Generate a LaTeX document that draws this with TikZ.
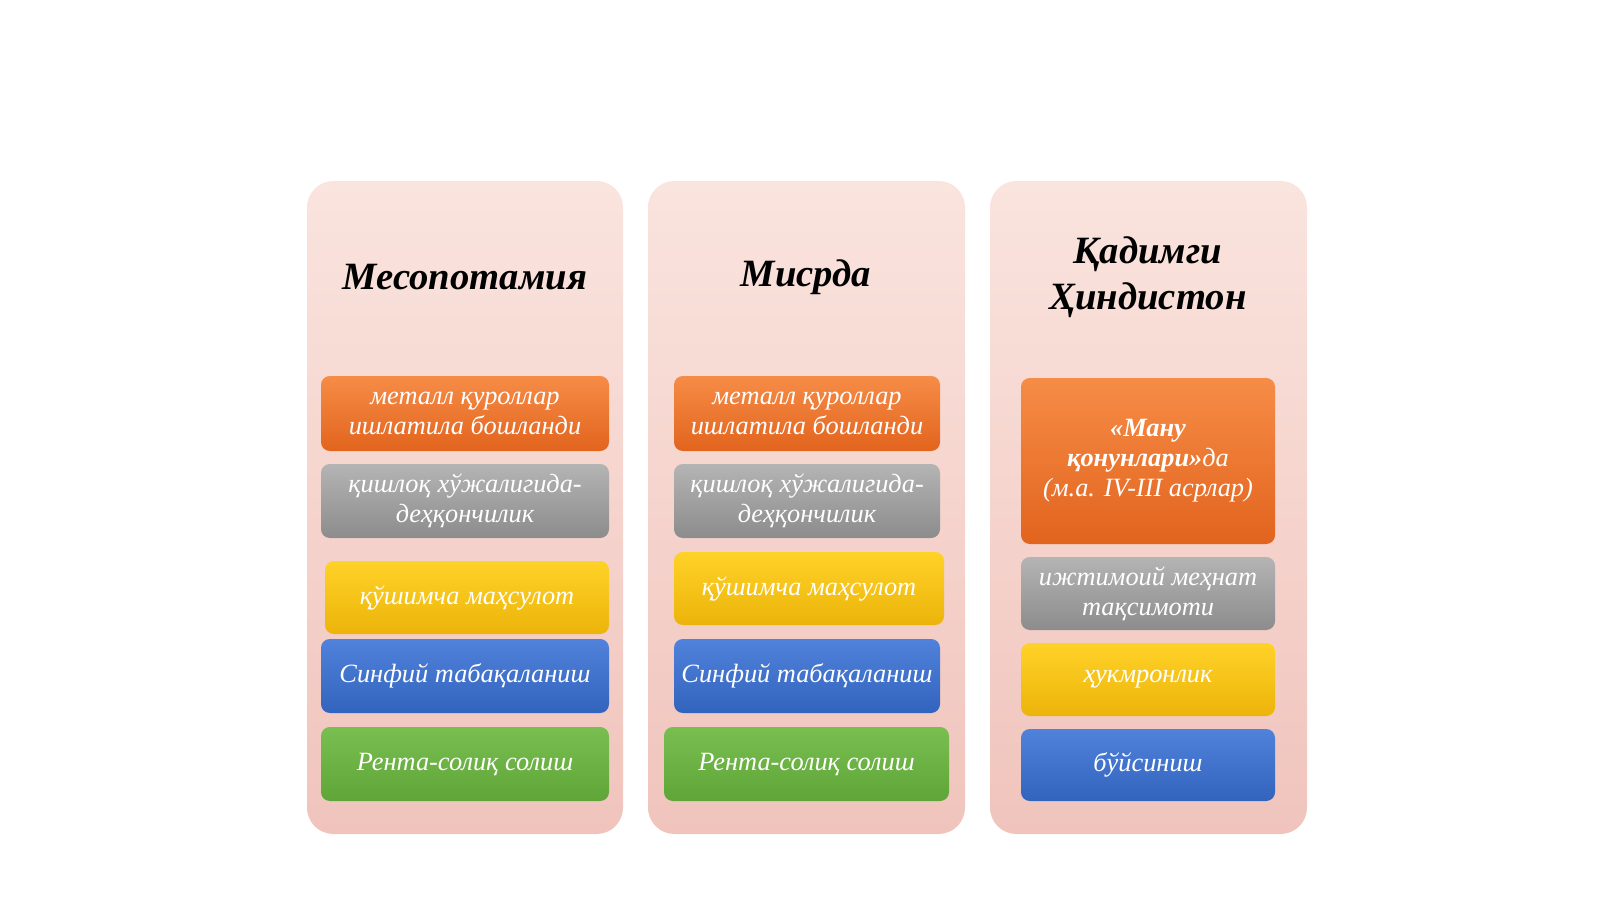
\documentclass[tikz,border=0pt]{standalone}
\usepackage{fontspec}
\setmainfont{Liberation Serif}
\usetikzlibrary{positioning}

\definecolor{colpink}{RGB}{240,196,188}
\definecolor{colpinktop}{RGB}{250,228,222}
\definecolor{orangetop}{RGB}{246,140,70}
\definecolor{orangebot}{RGB}{226,100,30}
\definecolor{graytop}{RGB}{180,180,180}
\definecolor{graybot}{RGB}{140,140,140}
\definecolor{yellowtop}{RGB}{255,210,40}
\definecolor{yellowbot}{RGB}{236,180,10}
\definecolor{bluetop}{RGB}{80,130,220}
\definecolor{bluebot}{RGB}{50,100,190}
\definecolor{greentop}{RGB}{120,190,80}
\definecolor{greenbot}{RGB}{95,165,55}

\tikzset{
  column/.style={rounded corners=15pt, top color=colpinktop, bottom color=colpink, draw=none},
  title/.style={font=\fontsize{22}{26}\selectfont\bfseries\itshape, align=center},
  item/.style={rounded corners=5pt},
  itemtext/.style={font=\fontsize{15}{17}\selectfont\itshape, text=white, align=center},
  orangebox/.style={item, top color=orangetop, bottom color=orangebot},
  graybox/.style={item, top color=graytop, bottom color=graybot},
  yellowbox/.style={item, top color=yellowtop, bottom color=yellowbot},
  bluebox/.style={item, top color=bluetop, bottom color=bluebot},
  greenbox/.style={item, top color=greentop, bottom color=greenbot},
}

% box from pixel corners: style, name, x1, y1, x2, y2, text
\newcommand{\pbox}[7]{%
  \path[#1] (#3,#4) rectangle (#5,#6);
  \node[itemtext] (#2) at ({(#3+#5)/2},{(#4+#6)/2}) {#7};
}

\begin{document}
\begin{tikzpicture}[x=0.02cm, y=-0.02cm]
  \useasboundingbox (0,0) rectangle (1600,899);

  % columns
  \path[column] (307,181) rectangle (623,834);
  \path[column] (648,181) rectangle (965,834);
  \path[column] (990,181) rectangle (1307,834);

  \node[title] (mes) at (465,277) {Месопотамия};
  \node[title] (mis) at (806,277) {Мисрда};
  \node[title] (hin) at (1148,277) {Қадимги\\Ҳиндистон};

  % Mesopotamia
  \pbox{orangebox}{mA}{321}{376}{609}{451}{металл қуроллар\\ишлатила бошланди}
  \pbox{graybox}{mB}{321}{464}{609}{538}{қишлоқ хўжалигида-\\деҳқончилик}
  \pbox{yellowbox}{mC}{325}{561}{609}{634}{қўшимча маҳсулот}
  \pbox{bluebox}{mD}{321}{639}{609}{713}{Синфий табақаланиш}
  \pbox{greenbox}{mE}{321}{727}{609}{801}{Рента-солиқ солиш}

  % Misr
  \pbox{orangebox}{sA}{674}{376}{940}{451}{металл қуроллар\\ишлатила бошланди}
  \pbox{graybox}{sB}{674}{464}{940}{538}{қишлоқ хўжалигида-\\деҳқончилик}
  \pbox{yellowbox}{sC}{674}{552}{944}{625}{қўшимча маҳсулот}
  \pbox{bluebox}{sD}{674}{639}{940}{713}{Синфий табақаланиш}
  \pbox{greenbox}{sE}{664}{727}{949}{801}{Рента-солиқ солиш}

  % Hindiston
  \pbox{orangebox}{hA}{1021}{378}{1275}{544}{{\bfseries«Ману}\\{\bfseries қонунлари»}да\\(м.а. IV-III асрлар)}
  \pbox{graybox}{hB}{1021}{557}{1275}{630}{ижтимоий меҳнат\\тақсимоти}
  \pbox{yellowbox}{hC}{1021}{643}{1275}{716}{ҳукмронлик}
  \pbox{bluebox}{hD}{1021}{729}{1275}{801}{бўйсиниш}
\end{tikzpicture}
\end{document}
